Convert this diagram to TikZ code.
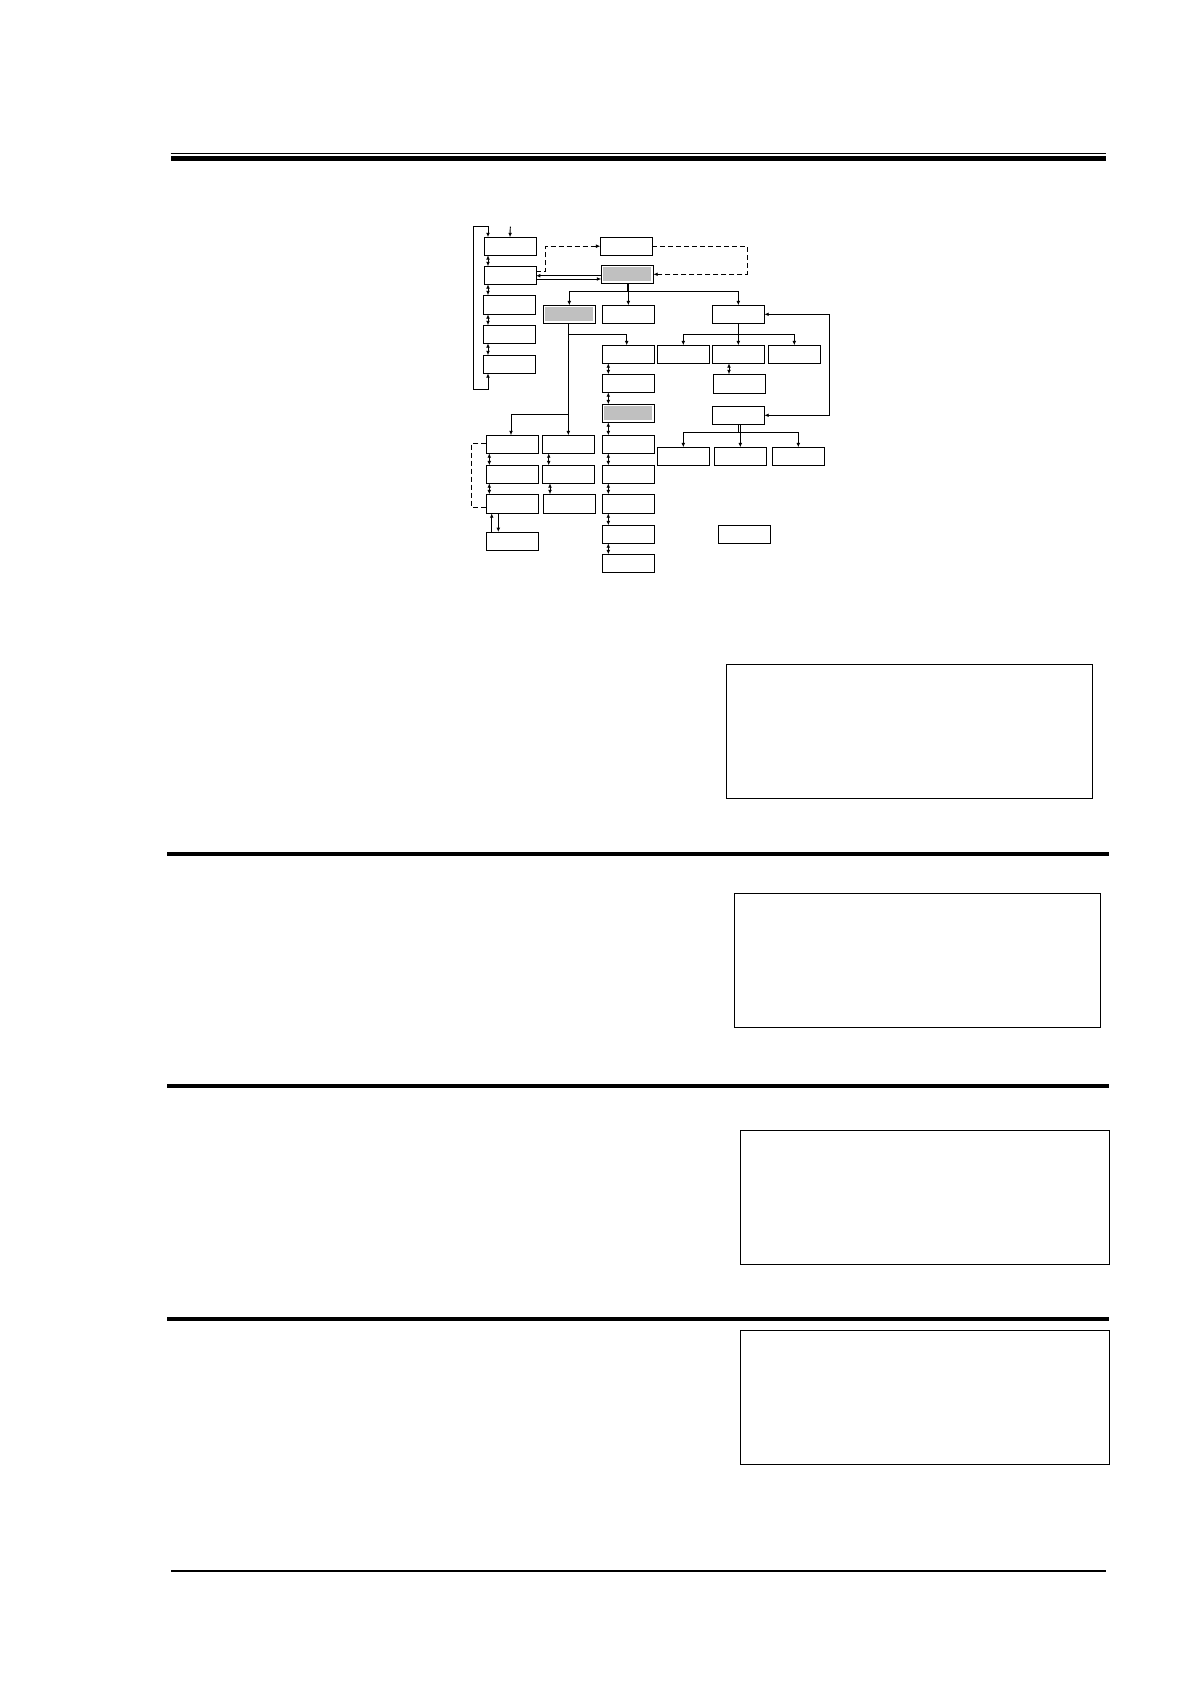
\documentclass[tikz,border=0pt]{standalone}
\usetikzlibrary{arrows.meta}
\definecolor{boxgray}{RGB}{192,192,192}
\begin{document}
\begin{tikzpicture}[x=1pt,y=-1pt,
  >={Latex[length=4.4pt,width=3.8pt]},
  dbox/.style={draw,line width=1pt,minimum width=52pt,minimum height=18pt,inner sep=0pt,outer sep=0pt},
  tallbox/.style={dbox,minimum height=19pt},
  gbox/.style={dbox,path picture={\fill[boxgray]([shift={(2pt,-2pt)}]path picture bounding box.north west) rectangle ([shift={(-2pt,2pt)}]path picture bounding box.south east);}},
  conn/.style={line width=0.95pt},
  dconn/.style={conn,dash pattern=on 5pt off 3pt},
  tbox/.style={draw,line width=1.2pt},
]
\useasboundingbox (0,0) rectangle (1191,1684);

% page rules
\draw[line width=1.2pt] (170.7,153.4) -- (1106,153.4);
\fill (170.7,155.8) rectangle (1106,160.6);
\fill (166.8,852) rectangle (1109,855.7);
\fill (166.8,1084) rectangle (1109,1088);
\fill (166.8,1317) rectangle (1109,1321);
\fill (170.7,1570) rectangle (1106,1572);

% empty text frames
\draw[tbox] (726.7,664.3) rectangle (1092.7,798.3);
\draw[tbox] (734.3,893.3) rectangle (1100.3,1027.3);
\draw[tbox] (740.3,1130.3) rectangle (1109.7,1264.3);
\draw[tbox] (740.3,1330.3) rectangle (1109.7,1464.3);

% left column
\node[dbox] (L1) at (510,246.2) {};
\node[dbox] (L2) at (510,275.3) {};
\node[tallbox] (L3) at (509.3,304.8) {};
\node[dbox] (L4) at (509.3,334.3) {};
\node[dbox] (L5) at (509.3,364.3) {};

% top
\node[dbox] (T) at (626.3,246.2) {};
\node[gbox] (G1) at (627.3,274.3) {};

% second row
\node[gbox] (G2) at (569.3,314.3) {};
\node[dbox] (M) at (628.3,314.3) {};
\node[dbox] (B) at (738.3,314.3) {};

% centre column
\node[dbox] (C1) at (628,354.3) {};
\node[dbox] (C2) at (628,383.3) {};
\node[gbox] (C3) at (628,413.3) {};
\node[dbox] (C4) at (628,444.3) {};
\node[dbox] (C5) at (628,474.3) {};
\node[tallbox] (C6) at (628,503.8) {};
\node[dbox] (C7) at (628,534.3) {};
\node[dbox] (C8) at (628,563.3) {};

% right group
\node[dbox] (K1) at (683.3,354.3) {};
\node[dbox] (K2) at (738.3,354.3) {};
\node[dbox] (K3) at (794.3,354.3) {};
\node[tallbox] (B2) at (739.3,383.8) {};
\node[dbox] (H) at (738.3,415.3) {};
\node[dbox] (J1) at (683.3,456.3) {};
\node[dbox] (J2) at (740.3,456.3) {};
\node[dbox] (J3) at (798.3,456.3) {};
\node[dbox] (LN) at (744.3,534.3) {};

% lower left
\node[dbox] (D1) at (512.3,444.3) {};
\node[dbox] (D2) at (512.3,474.3) {};
\node[tallbox] (D3) at (512.3,503.8) {};
\node[dbox] (D4) at (512.3,541) {};
\node[dbox] (E1) at (568.3,444.3) {};
\node[dbox] (E2) at (568.3,474.3) {};
\node[tallbox] (E3) at (569.3,503.8) {};

% loop of left column
\coordinate (lt) at (473.3,226.7);
\coordinate (lb) at (473.3,389);
\coordinate (tin) at (510.3,226.7);
\draw[conn,<->] ([xshift=-22pt]L1.north) |- (lt) -- (lb) -| ([xshift=-21.3pt]L5.south);
\draw[conn,->] (tin) -- (L1.north);
\draw[conn,<->] ([xshift=-22pt]L1.south) -- ([xshift=-22pt]L1.south |- L2.north);
\draw[conn,<->] ([xshift=-22pt]L2.south) -- ([xshift=-22pt]L2.south |- L3.north);
\draw[conn,<->] ([xshift=-21.3pt]L3.south) -- ([xshift=-21.3pt]L4.north);
\draw[conn,<->] ([xshift=-21.3pt]L4.south) -- ([xshift=-21.3pt]L5.north);

% links between L2, T and G1
\draw[dconn,->] ([yshift=3.6pt]L2.east) -- ++(9.7,0) |- (T.west);
\draw[dconn,->] (T.east) -- ++(95,0) |- (G1.east);
\draw[conn,->] ([yshift=-1.4pt]G1.west) -- ([yshift=-1.4pt]G1.west -| L2.east);
\draw[conn,->] ([yshift=-4.7pt]G1.west -| L2.east) -- ([yshift=-4.7pt]G1.west);

% G1 branches
\draw[conn,->] (G1.south) -- ++(0,8.4) -| (G2.north);
\draw[conn,->] (M.north |- G1.south) -- (M.north);
\draw[conn,->] (G1.south) -- ++(0,8.4) -| (B.north);

% G2 trunk and branches
\draw[conn,->] (E1.north |- G2.south) -- (E1.north);
\draw[conn,->] (E1.north |- G2.south) -- ++(0,11) -| ([xshift=-1.3pt]C1.north);
\draw[conn,->] (E1.north |- G2.south) -- ++(0,91) -| ([xshift=-1.3pt]D1.north);

% centre column double arrows
\foreach \a/\b in {C1/C2,C2/C3,C3/C4,C4/C5,C5/C6,C6/C7,C7/C8}
  \draw[conn,<->] ([xshift=-19.7pt]\a.south) -- ([xshift=-19.7pt]\b.north);

% B branches
\draw[conn,->] (B.south) -- ++(0,11) -| (K1.north);
\draw[conn,->] (B.south) -- (K2.north);
\draw[conn,->] (B.south) -- ++(0,11) -| (K3.north);
\draw[conn,<->] ([xshift=-9.3pt]K2.south) -- ([xshift=-9.3pt]K2.south |- B2.north);

% feedback B <-> H
\draw[conn,<->] (B.east) -- ++(65,0) |- (H.east);

% H branches
\draw[conn,->] (H.south) -- ++(0,8) -| (J1.north);
\draw[conn,->] (J2.north |- H.south) -- (J2.north);
\draw[conn,->] (H.south) -- ++(0,8) -| (J3.north);

% lower left arrows
\draw[conn,<->] ([xshift=-23pt]D1.south) -- ([xshift=-23pt]D2.north);
\draw[conn,<->] ([xshift=-23pt]D2.south) -- ([xshift=-23pt]D3.north);
\draw[conn,->] ([xshift=-20.6pt]D4.north) -- ([xshift=-20.6pt]D3.south);
\draw[conn,->] ([xshift=-14pt]D3.south) -- ([xshift=-14pt]D4.north);
\draw[dconn] ([yshift=1pt]D1.west) -- ++(-14.6,0) |- ([yshift=-3.5pt]D3.west);
\draw[conn,<->] ([xshift=-19.6pt]E1.south) -- ([xshift=-19.6pt]E2.north);
\draw[conn,<->] ([xshift=-18.3pt]E2.south) -- ([xshift=-18.3pt]E2.south |- E3.north);

\end{tikzpicture}
\end{document}
